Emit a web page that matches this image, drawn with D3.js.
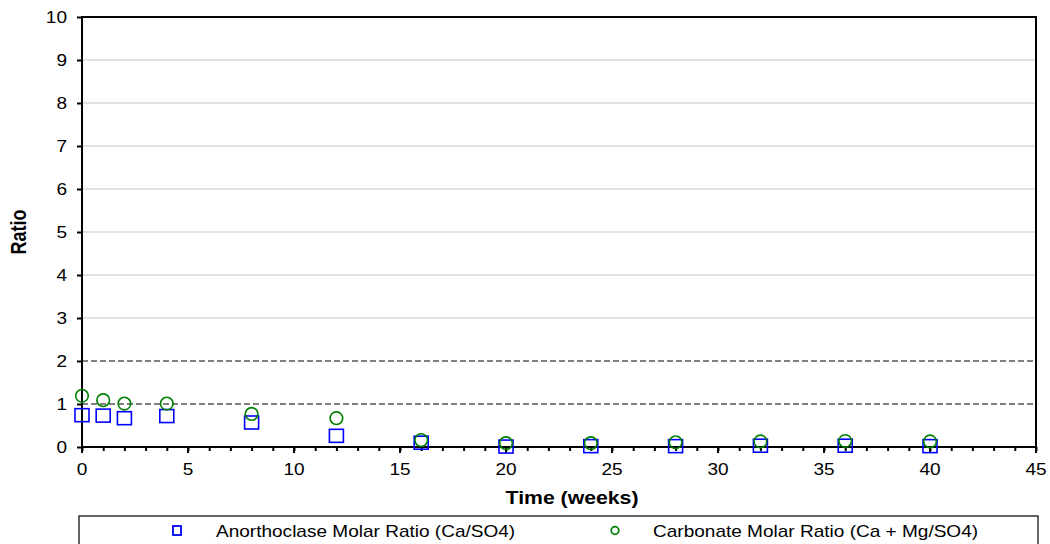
<!DOCTYPE html>
<html><head><meta charset="utf-8">
<script src="https://cdn.jsdelivr.net/npm/d3@7/dist/d3.min.js"></script>
<style>body{margin:0;background:#fff;} text{font-family:"Liberation Sans",Arial,sans-serif;fill:#000;}</style>
</head><body>
<svg id="chart" width="1050" height="544"></svg>
<script>
const weeks = [0,1,2,4,8,12,16,20,24,28,32,36,40];
const anorthoclase = [0.74,0.73,0.67,0.72,0.57,0.26,0.10,0.01,0.02,0.02,0.03,0.03,0.02];
const carbonate = [1.19,1.09,1.01,1.01,0.77,0.67,0.16,0.09,0.09,0.11,0.13,0.14,0.13];
const refLines = [1,2];
const xTicks = [0,5,10,15,20,25,30,35,40,45];
const yTicks = [0,1,2,3,4,5,6,7,8,9,10];
const seriesNames = ["Anorthoclase Molar Ratio (Ca/SO4)","Carbonate Molar Ratio (Ca + Mg/SO4)"];

const svg = d3.select("#chart");
const x = d3.scaleLinear().domain([0,45]).range([82,1036]);
const y = d3.scaleLinear().domain([0,10]).range([447,17]);

function stext(g, tx, ty, str, anchor, opts={}) {
  const sx = opts.sx || 1.12;
  return g.append("text")
    .attr("transform", `translate(${tx},${ty}) ${opts.rotate?`rotate(${opts.rotate}) scale(1,${sx})`:`scale(${sx},1)`}`)
    .attr("text-anchor", anchor)
    .style("font-size", (opts.size||17)+"px")
    .style("font-weight", opts.bold?"bold":"normal")
    .text(str);
}

// gridlines
svg.append("g").selectAll("line").data(yTicks.filter(v=>v>0 && !refLines.includes(v)))
  .join("line").attr("x1",x(0)).attr("x2",x(45)).attr("y1",d=>y(d)).attr("y2",d=>y(d))
  .attr("stroke","#d9d9d9").attr("stroke-width",1.5);
// reference dashed lines
svg.append("g").selectAll("line").data(refLines)
  .join("line").attr("x1",x(0)).attr("x2",x(45)).attr("y1",d=>y(d)).attr("y2",d=>y(d))
  .attr("stroke","#808080").attr("stroke-width",2).attr("stroke-dasharray","6,3");

// frame
svg.append("rect").attr("x",x(0)).attr("y",y(10)).attr("width",x(45)-x(0)).attr("height",y(0)-y(10))
  .attr("fill","none").attr("stroke","#000").attr("stroke-width",2);

// axes
const xAxisG = svg.append("g").attr("transform",`translate(0,${y(0)})`);
xAxisG.call(d3.axisBottom(x).tickValues(d3.range(0,46,1)).tickSize(4).tickFormat(""))
  .call(g=>g.select(".domain").remove())
  .call(g=>g.selectAll("line").attr("stroke","#000").attr("stroke-width",2));
xAxisG.call(g=>g.selectAll(null).data(xTicks).join("line")
  .attr("x1",d=>x(d)).attr("x2",d=>x(d)).attr("y1",0).attr("y2",6).attr("stroke","#000").attr("stroke-width",2));
xTicks.forEach(v=>stext(svg, x(v), 475, String(v), "middle"));

const yAxisG = svg.append("g").attr("transform",`translate(${x(0)},0)`);
yAxisG.call(d3.axisLeft(y).tickValues(yTicks).tickSize(5).tickFormat(""))
  .call(g=>g.select(".domain").remove())
  .call(g=>g.selectAll("line").attr("stroke","#000").attr("stroke-width",2));
yTicks.forEach(v=>stext(svg, 67, y(v)+6, String(v), "end"));

// axis titles
stext(svg, 572, 504, "Time (weeks)", "middle", {bold:true, size:18, sx:1.18});
stext(svg, 26, 232, "Ratio", "middle", {bold:true, size:18, sx:1.18, rotate:-90});

// series
svg.append("g").selectAll("rect").data(weeks.map((w,i)=>[w,anorthoclase[i]]))
  .join("rect").attr("x",d=>x(d[0])-7).attr("y",d=>y(d[1])-6.5).attr("width",14).attr("height",13)
  .attr("fill","none").attr("stroke","#0000ff").attr("stroke-width",1.6);
svg.append("g").selectAll("circle").data(weeks.map((w,i)=>[w,carbonate[i]]))
  .join("circle").attr("cx",d=>x(d[0])).attr("cy",d=>y(d[1])).attr("r",6.3)
  .attr("fill","none").attr("stroke","#008000").attr("stroke-width",1.6);

// legend
const lg = svg.append("g");
lg.append("rect").attr("x",79).attr("y",516).attr("width",959).attr("height",40)
  .attr("fill","#fff").attr("stroke","#000").attr("stroke-width",1.2);
lg.append("rect").attr("x",173).attr("y",526).attr("width",8).attr("height",9)
  .attr("fill","none").attr("stroke","#0000ff").attr("stroke-width",1.8);
stext(lg, 216, 537, seriesNames[0], "start");
lg.append("circle").attr("cx",615).attr("cy",530.5).attr("r",3.8)
  .attr("fill","none").attr("stroke","#008000").attr("stroke-width",1.8);
stext(lg, 653, 537, seriesNames[1], "start");
</script>
</body></html>
